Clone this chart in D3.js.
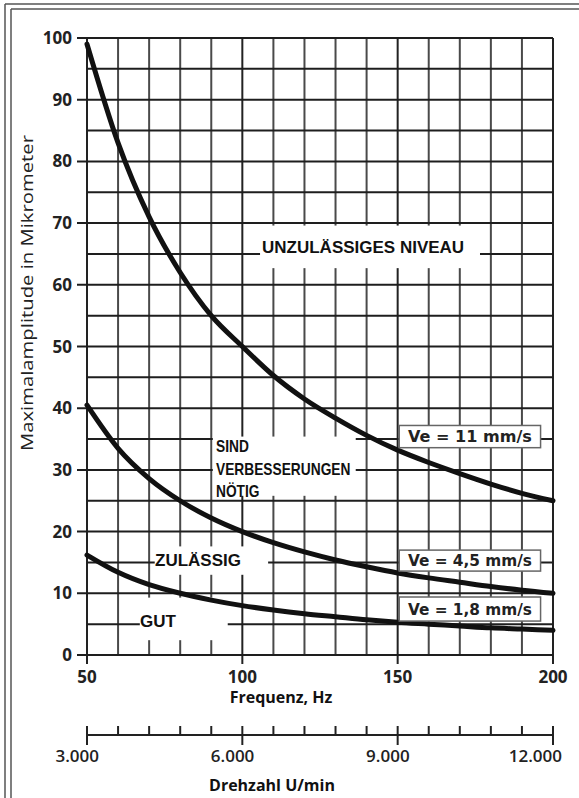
<!DOCTYPE html>
<html>
<head>
<meta charset="utf-8">
<script src="https://cdn.jsdelivr.net/npm/d3@7"></script>
<style>
  body { margin: 0; background: #fff; }
  svg { display: block; }
</style>
</head>
<body>
<div id="chart"></div>
<script>
// Frequenz in Hz (Stuetzstellen der Kurven)
const freq = [50, 60, 70, 80, 90, 100, 110, 120, 130, 140, 150, 160, 170, 180, 190, 200];
// Maximalamplitude in Mikrometer
const ve11 = [99, 83, 71, 62, 55, 50, 45.3, 41.5, 38.4, 35.6, 33.2, 31.2, 29.4, 27.7, 26.2, 25];
const ve45 = [40.5, 33.5, 28.6, 25, 22.2, 20, 18.2, 16.7, 15.4, 14.3, 13.3, 12.5, 11.8, 11.1, 10.5, 10];
const ve18 = [16.2, 13.4, 11.4, 10, 8.9, 8, 7.3, 6.7, 6.2, 5.7, 5.3, 5, 4.7, 4.4, 4.2, 4];
const curveLabels = ['Ve = 11 mm/s', 'Ve = 4,5 mm/s', 'Ve = 1,8 mm/s'];
const yTicks = [0, 10, 20, 30, 40, 50, 60, 70, 80, 90, 100];
const xTicks = [50, 100, 150, 200];
const rpmTicks = [3000, 6000, 9000, 12000];

const W = 579, H = 798;
const svg = d3.select('#chart').append('svg').attr('width', W).attr('height', H);

// doppelter Rahmen (rechts/unten abgeschnitten)
[[4, 5], [9, 11]].forEach(([ty, lx]) => {
  svg.append('line').attr('x1', lx).attr('x2', W).attr('y1', ty).attr('y2', ty).attr('stroke', '#555').attr('stroke-width', 1.5);
  svg.append('line').attr('x1', lx).attr('x2', lx).attr('y1', ty).attr('y2', H).attr('stroke', '#555').attr('stroke-width', 1.5);
});

const x = d3.scaleLinear().domain([50, 200]).range([87, 553]);
const y = d3.scaleLinear().domain([0, 100]).range([655, 38]);
const rpm = d3.scaleLinear().domain([3000, 12000]).range([87, 553]);

const g = svg.append('g');

// Gitter
g.selectAll('.vgrid').data(d3.range(50, 201, 10)).enter().append('line')
  .attr('x1', d => x(d)).attr('x2', d => x(d)).attr('y1', y(100)).attr('y2', d => xTicks.includes(d) ? y(0) + 9 : y(0))
  .attr('stroke', d => xTicks.includes(d) ? '#222' : '#4a4a4a').attr('stroke-width', 2);
g.selectAll('.hgrid').data(d3.range(0, 101, 5)).enter().append('line')
  .attr('x1', d => d % 10 === 0 ? x(50) - 10 : x(50)).attr('x2', x(200)).attr('y1', d => y(d)).attr('y2', d => y(d))
  .attr('stroke', '#1e1e1e').attr('stroke-width', 2);

// weisse Felder hinter den Zonenbeschriftungen
const zones = [
  { lines: ['UNZULÄSSIGES NIVEAU'], f0: 105.7, f1: 176.5, a0: 62.7, a1: 69.6 },
  { lines: ['SIND', 'VERBESSERUNGEN', 'NÖTIG'], f0: 90.5, f1: 136.5, a0: 25.8, a1: 35.4 },
  { lines: ['ZULÄSSIG'], f0: 71.8, f1: 108.3, a0: 13, a1: 17.6 },
  { lines: ['GUT'], f0: 67, f1: 95.3, a0: 2.4, a1: 9.3 }
];
const zoneText = [
  { x: 262, y: [253] },
  { x: 216, y: [452, 475, 497] },
  { x: 155, y: [566] },
  { x: 140, y: [627] }
];
zones.forEach(z => {
  g.append('rect').attr('x', x(z.f0)).attr('y', y(z.a1)).attr('width', x(z.f1) - x(z.f0)).attr('height', y(z.a0) - y(z.a1)).attr('fill', '#fff');
});

// Kurven
const line = d3.line().x((d, i) => x(freq[i])).y(d => y(d)).curve(d3.curveMonotoneX);
[ve11, ve45, ve18].forEach(s => {
  g.append('path').datum(s).attr('d', line).attr('fill', 'none').attr('stroke', '#111').attr('stroke-width', 5).attr('stroke-linecap', 'round');
});

zones.forEach((z, k) => {
  z.lines.forEach((t, i) => {
    const tx = g.append('text').attr('x', zoneText[k].x).attr('y', zoneText[k].y[i]).text(t)
      .style('font-family', '"Liberation Sans", Arial, sans-serif').style('font-weight', 'bold').style('font-size', '17px').attr('fill', '#111');
    if (z.lines.length > 1) tx.style('font-size', '16px').attr('transform', `translate(${zoneText[k].x},0) scale(0.86,1) translate(${-zoneText[k].x},0)`);
  });
});

// Ve-Kaesten
const boxes = [{ a: 37.2, h: 3.6 }, { a: 17, h: 3.4 }, { a: 9.4, h: 3.9 }];
boxes.forEach((b, i) => {
  g.append('rect').attr('x', x(150.5)).attr('y', y(b.a)).attr('width', x(196) - x(150.5)).attr('height', y(b.a - b.h) - y(b.a))
    .attr('fill', '#fff').attr('stroke', '#666').attr('stroke-width', 1.5);
  g.append('text').attr('x', (x(150.5) + x(196)) / 2).attr('y', y(b.a) + (y(b.a - b.h) - y(b.a)) / 2 + 5.5)
    .attr('text-anchor', 'middle').text(curveLabels[i])
    .style('font-family', '"DejaVu Sans", sans-serif').style('font-weight', 'bold').style('font-size', '15px').attr('fill', '#222')
    .attr('textLength', 124).attr('lengthAdjust', 'spacingAndGlyphs');
});

// Achsenbeschriftung
const tickFont = '"Open Sans", "DejaVu Sans", sans-serif';
g.selectAll('.ylab').data(yTicks).enter().append('text')
  .attr('x', 72).attr('y', d => y(d) + 6).attr('text-anchor', 'end').text(d => d)
  .style('font-family', tickFont).style('font-weight', 'bold').style('font-size', '17px').attr('fill', '#222');
g.selectAll('.xlab').data(xTicks).enter().append('text')
  .attr('x', d => x(d)).attr('y', 683).attr('text-anchor', 'middle').text(d => d)
  .style('font-family', tickFont).style('font-weight', 'bold').style('font-size', '17px').attr('fill', '#222');
g.append('text').attr('x', 281).attr('y', 703).attr('text-anchor', 'middle').text('Frequenz, Hz')
  .style('font-family', tickFont).style('font-weight', 'bold').style('font-size', '16px').attr('fill', '#111');
g.append('text').attr('transform', 'translate(33,293) rotate(-90)').attr('text-anchor', 'middle').text('Maximalamplitude in Mikrometer')
  .style('font-family', tickFont).style('font-size', '17px').attr('fill', '#222')
  .attr('textLength', 316).attr('lengthAdjust', 'spacingAndGlyphs');

// Drehzahl-Achse
const rpmAxis = g.append('g');
rpmAxis.append('line').attr('x1', rpm(3000)).attr('x2', rpm(12000)).attr('y1', 735).attr('y2', 735).attr('stroke', '#222').attr('stroke-width', 2);
rpmAxis.selectAll('.rt').data(d3.range(3000, 12001, 600)).enter().append('line')
  .attr('x1', d => rpm(d)).attr('x2', d => rpm(d)).attr('y1', 726).attr('y2', d => rpmTicks.includes(d) ? 745 : 735)
  .attr('stroke', '#222').attr('stroke-width', 2);
rpmAxis.selectAll('.rl').data(rpmTicks).enter().append('text')
  .attr('x', d => rpm(d) + (d === 12000 ? 9 : 12)).attr('y', 762).attr('text-anchor', 'end').text(d => d3.format(',')(d).replace(',', '.'))
  .style('font-family', tickFont).style('font-weight', 600).style('font-size', '17px').attr('fill', '#222');
g.append('text').attr('x', 272).attr('y', 791).attr('text-anchor', 'middle').text('Drehzahl U/min')
  .style('font-family', tickFont).style('font-weight', 'bold').style('font-size', '16px').attr('fill', '#111');
</script>
</body>
</html>
